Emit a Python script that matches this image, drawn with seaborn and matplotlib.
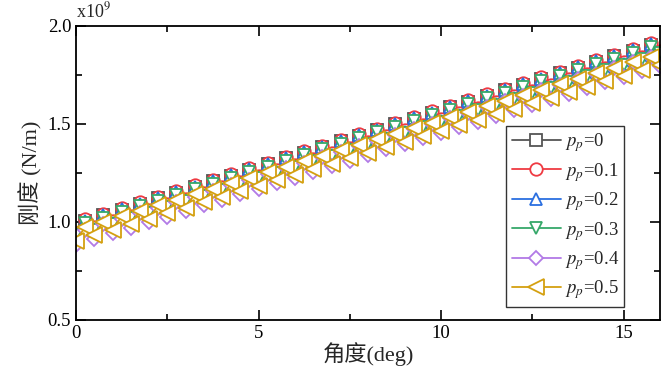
#!/usr/bin/env python3

"""Stiffness vs. angle for several p_p values (zigzag mesh stiffness)."""

import seaborn as sns
import pandas as pd
import matplotlib.pyplot as plt
from matplotlib.ticker import MultipleLocator

# DATA ##############################################################################################
angle = [i * 0.25 for i in range(65)]   # deg, 0 .. 16

k_p00 = [0.940,1.005,0.969,1.034,0.998,1.063,1.027,1.092,1.056,1.121,
         1.085,1.150,1.114,1.179,1.143,1.208,1.172,1.237,1.201,1.266,
         1.230,1.295,1.259,1.324,1.288,1.353,1.317,1.382,1.346,1.411,
         1.375,1.440,1.404,1.469,1.433,1.498,1.462,1.527,1.491,1.556,
         1.520,1.585,1.549,1.614,1.578,1.643,1.607,1.672,1.636,1.701,
         1.665,1.730,1.694,1.759,1.723,1.788,1.752,1.817,1.781,1.846,
         1.810,1.875,1.839,1.904,1.868]
k_p01 = [0.945,1.013,0.974,1.042,1.003,1.071,1.032,1.100,1.061,1.129,
         1.090,1.158,1.119,1.187,1.148,1.216,1.177,1.245,1.206,1.274,
         1.235,1.303,1.264,1.332,1.293,1.361,1.322,1.390,1.351,1.419,
         1.380,1.448,1.409,1.477,1.438,1.506,1.467,1.535,1.496,1.564,
         1.525,1.593,1.554,1.622,1.583,1.651,1.612,1.680,1.641,1.709,
         1.670,1.738,1.699,1.767,1.728,1.796,1.757,1.825,1.786,1.854,
         1.815,1.883,1.844,1.912,1.873]
k_p02 = [0.935,1.007,0.964,1.036,0.993,1.065,1.022,1.094,1.051,1.123,
         1.080,1.152,1.109,1.181,1.138,1.210,1.167,1.239,1.196,1.268,
         1.225,1.297,1.254,1.326,1.283,1.355,1.312,1.384,1.341,1.413,
         1.370,1.442,1.399,1.471,1.428,1.500,1.457,1.529,1.486,1.558,
         1.515,1.587,1.544,1.616,1.573,1.645,1.602,1.674,1.631,1.703,
         1.660,1.732,1.689,1.761,1.718,1.790,1.747,1.819,1.776,1.848,
         1.805,1.877,1.834,1.906,1.863]
k_p03 = [0.932,0.993,0.961,1.022,0.990,1.051,1.019,1.080,1.048,1.109,
         1.077,1.138,1.106,1.167,1.135,1.196,1.164,1.225,1.193,1.254,
         1.222,1.283,1.251,1.312,1.280,1.341,1.309,1.370,1.338,1.399,
         1.367,1.428,1.396,1.457,1.425,1.486,1.454,1.515,1.483,1.544,
         1.512,1.573,1.541,1.602,1.570,1.631,1.599,1.660,1.628,1.689,
         1.657,1.718,1.686,1.747,1.715,1.776,1.744,1.805,1.773,1.834,
         1.802,1.863,1.831,1.892,1.860]
k_p04 = [0.885,0.959,0.914,0.988,0.942,1.016,0.971,1.045,0.999,1.073,
         1.028,1.102,1.056,1.130,1.085,1.159,1.113,1.187,1.142,1.216,
         1.170,1.244,1.199,1.273,1.227,1.301,1.256,1.330,1.284,1.358,
         1.313,1.387,1.341,1.415,1.370,1.444,1.398,1.472,1.427,1.501,
         1.455,1.529,1.484,1.558,1.512,1.586,1.541,1.615,1.569,1.643,
         1.598,1.672,1.626,1.700,1.655,1.729,1.683,1.757,1.712,1.786,
         1.740,1.814,1.769,1.843,1.797]
k_p05 = [0.905,0.974,0.933,1.002,0.961,1.030,0.989,1.058,1.017,1.086,
         1.045,1.114,1.073,1.142,1.101,1.170,1.129,1.198,1.157,1.226,
         1.185,1.254,1.213,1.282,1.241,1.310,1.269,1.338,1.297,1.366,
         1.325,1.394,1.353,1.422,1.381,1.450,1.409,1.478,1.437,1.506,
         1.465,1.534,1.493,1.562,1.521,1.590,1.549,1.618,1.577,1.646,
         1.605,1.674,1.633,1.702,1.661,1.730,1.689,1.758,1.717,1.786,
         1.745,1.814,1.773,1.842,1.801]

labels  = ["$p_p$=0", "$p_p$=0.1", "$p_p$=0.2", "$p_p$=0.3", "$p_p$=0.4", "$p_p$=0.5"]
series  = [k_p00, k_p01, k_p02, k_p03, k_p04, k_p05]
colors  = ["#555555", "#ef3a42", "#2b6fe0", "#36a86a", "#b27ae6", "#d4a010"]
markers = ["s", "o", "^", "v", "D", "<"]
msizes  = [8, 9, 9, 9, 7, 11]
####################################################################################################

sns.set_theme(style="ticks")
plt.rcParams["font.family"] = ["Liberation Serif", "Noto Sans CJK SC"]
plt.rcParams["mathtext.fontset"] = "stix"

fig = plt.figure(figsize=(6.71, 3.76), dpi=100)
ax = fig.add_axes([76/671, 1-320/376, 584/671, 294/376])

for y, lab, c, m, ms in zip(series, labels, colors, markers, msizes):
    sns.lineplot(x=angle, y=y, ax=ax, label=lab, color=c, marker=m,
                 markersize=ms, markerfacecolor="white", markeredgecolor=c,
                 markeredgewidth=1.3, linewidth=1.3)

ax.set_xlim(0, 16)
ax.set_ylim(0.5, 2.0)
ax.xaxis.set_major_locator(MultipleLocator(5))
ax.xaxis.set_minor_locator(MultipleLocator(2.5))
ax.yaxis.set_major_locator(MultipleLocator(0.5))
ax.yaxis.set_minor_locator(MultipleLocator(0.25))
ax.yaxis.set_major_formatter(plt.FuncFormatter(lambda v, p: f"{v:.1f}"))
ax.tick_params(which="both", direction="in", top=True, right=True, labelsize=13.5,
               width=1.2, colors="black")
ax.tick_params(which="major", length=7)
ax.tick_params(which="minor", length=4)
for s in ax.spines.values():
    s.set_linewidth(1.3)
    s.set_color("black")

ax.set_xlabel("角度(deg)", fontsize=16, labelpad=0)
ax.set_ylabel("刚度 (N/m)", fontsize=16, labelpad=4)
ax.text(0, 1.015, "x10$^9$", transform=ax.transAxes, fontsize=13, va="bottom", ha="left")

leg = ax.legend(loc="lower right", bbox_to_anchor=(0.955, 0.012), fontsize=13.5,
                handlelength=2.6, handletextpad=0.2, labelspacing=0.35,
                borderpad=0.3, fancybox=False, framealpha=1, edgecolor="#333333")
leg.get_frame().set_linewidth(1.0)

fig.savefig("out.png", dpi=100)
